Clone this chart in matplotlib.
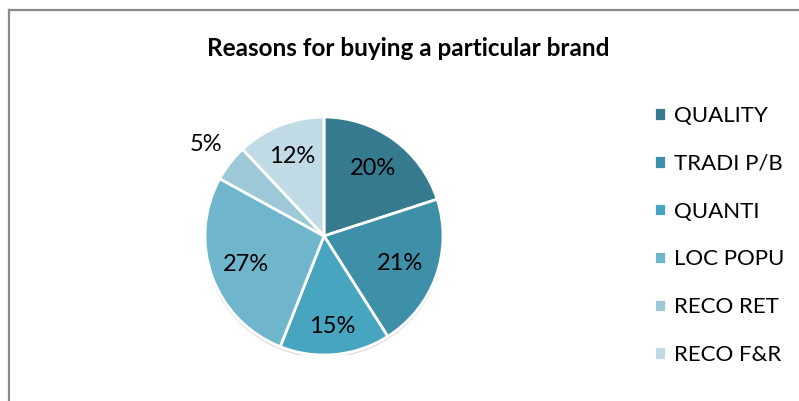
import matplotlib
matplotlib.use("Agg")
import numpy as np
import matplotlib.pyplot as plt
from matplotlib.lines import Line2D
from matplotlib.patches import Circle

plt.rcParams['font.family'] = ['Lato', 'DejaVu Sans']

reasons = ['QUALITY', 'TRADI P/B', 'QUANTI', 'LOC POPU', 'RECO RET', 'RECO F&R']
shares = [20, 21, 15, 27, 5, 12]
colors = ['#357A8F', '#3E8FA8', '#47A5BF', '#6FB5CB', '#9DC8D8', '#C0DBE5']
# radial position of each percentage label (fraction of radius)
label_dist = [0.70, 0.68, 0.76, 0.70, 1.25, 0.72]

W, H = 799, 401
fig = plt.figure(figsize=(W / 100, H / 100), dpi=100)

# frame lines along top and left edge
fig.add_artist(Line2D([8.5 / W, 8.5 / W], [0, 1 - 10 / H], color='#8a8a8a', lw=1.6))
fig.add_artist(Line2D([8.5 / W, 1], [1 - 10 / H, 1 - 10 / H], color='#8a8a8a', lw=1.6))

fig.text(408 / W, 1 - 48 / H, 'Reasons for buying a particular brand',
         ha='center', va='center', fontsize=17.5, fontweight='bold')

cx, cy, r = 324, 236, 119
ax = fig.add_axes([(cx - r) / W, (H - cy - r) / H, 2 * r / W, 2 * r / H])

# soft shadow under the pie
ax.add_patch(Circle((0, -0.02), 1.0, color='#d8d8d8', alpha=0.6, zorder=0))

wedges, texts, autotexts = ax.pie(
    shares, colors=colors, startangle=90, counterclock=False, radius=1,
    autopct='%d%%', pctdistance=0.68,
    wedgeprops=dict(edgecolor='white', linewidth=2),
    textprops=dict(fontsize=17, color='black'))
ax.set_xlim(-1, 1)
ax.set_ylim(-1, 1)
ax.axis('off')

for w, t, d in zip(wedges, autotexts, label_dist):
    mid = np.deg2rad((w.theta1 + w.theta2) / 2)
    t.set_position((d * np.cos(mid), d * np.sin(mid)))

fig.legend(wedges, reasons, loc='upper left', bbox_to_anchor=(654 / W, 1 - 106 / H),
           frameon=False, fontsize=16, labelspacing=1.25, borderpad=0, borderaxespad=0,
           handlelength=0.55, handleheight=0.55, handletextpad=0.35)

fig.savefig('out.png', dpi=100)
